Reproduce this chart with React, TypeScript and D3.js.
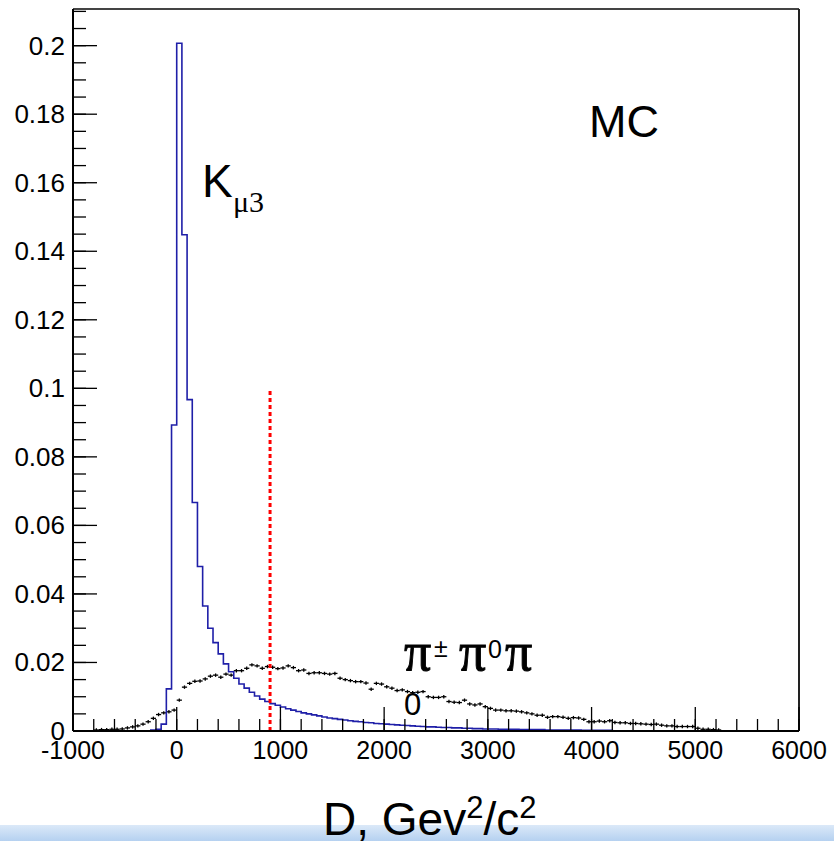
import React from "react";
import * as d3 from "d3";

// ---- data ----
// Kμ3 simulated distribution: 50-unit bins starting at -250
const kBinStart = -250;
const kBinWidth = 50;
const kmu3Values = [
  0.0003, 0.0005, 0.002, 0.0123, 0.0893, 0.2007, 0.1448, 0.0967, 0.0667, 0.048,
  0.0365, 0.03, 0.0258, 0.0225, 0.0196, 0.0173, 0.0154, 0.0137, 0.0125, 0.0113,
  0.0102, 0.0093, 0.0086, 0.008, 0.0075, 0.007, 0.0065, 0.0061, 0.0057, 0.0053,
  0.005, 0.0047, 0.0044, 0.0041, 0.0038, 0.0036, 0.0034, 0.0032, 0.003, 0.0028,
  0.0027, 0.0025, 0.0024, 0.0022, 0.0021, 0.002, 0.0019, 0.0018, 0.0017, 0.0016,
  0.0015, 0.0014, 0.0013, 0.0012, 0.0012, 0.0011, 0.001, 0.001, 0.0009, 0.0009,
  0.0008, 0.0008, 0.0007, 0.0007, 0.0006, 0.0006, 0.0006, 0.0005, 0.0005, 0.0005,
  0.0005, 0.0004, 0.0004, 0.0004, 0.0004, 0.0004, 0.0003, 0.0003, 0.0003, 0.0003,
  0.0003, 0.0003, 0.0003, 0.0002, 0.0002, 0.0002, 0.0002, 0.0002, 0.0002,
];

// π±π0π0 simulated distribution: 50-unit bins starting at -800
const pBinStart = -800;
const pBinWidth = 50;
const pipiValues = [
  0.0003, 0.0004, 0.0004, 0.0005, 0.0005, 0.0006, 0.0009, 0.0012, 0.0015, 0.002,
  0.0027, 0.0037, 0.0048, 0.0053, 0.0056, 0.0061, 0.009, 0.0128, 0.0139, 0.0145,
  0.0146, 0.0152, 0.016, 0.0163, 0.0157, 0.0166, 0.0163, 0.0176, 0.0176, 0.0183,
  0.0193, 0.019, 0.0183, 0.0188, 0.0186, 0.0182, 0.0184, 0.019, 0.0185, 0.0176,
  0.0178, 0.0168, 0.017, 0.017, 0.0168, 0.0166, 0.0168, 0.0154, 0.015, 0.0147,
  0.0144, 0.0144, 0.014, 0.0122, 0.0139, 0.0137, 0.0129, 0.0125, 0.0118, 0.012,
  0.0115, 0.0112, 0.0113, 0.0115, 0.01, 0.0098, 0.0098, 0.01, 0.0086, 0.0084,
  0.0083, 0.009, 0.0079, 0.0076, 0.0079, 0.0071, 0.0066, 0.0061, 0.0061, 0.0059,
  0.0059, 0.0058, 0.0056, 0.0053, 0.005, 0.0046, 0.0046, 0.004, 0.0042, 0.0042,
  0.004, 0.0037, 0.0039, 0.0038, 0.0034, 0.0027, 0.0027, 0.0029, 0.0027, 0.003,
  0.0025, 0.0024, 0.0024, 0.0022, 0.0022, 0.0021, 0.002, 0.0019, 0.002, 0.0017,
  0.0015, 0.0015, 0.0013, 0.0013, 0.0013, 0.0013, 0.0008, 0.0005, 0.0005, 0.0004,
  0.0003,
];
const pipiError = 0.0005;

// cut position
const cutX = 900;
const cutTop = 0.1;

const xDomain = [-1000, 6000];
const yDomain = [0, 0.2107];
const xTickLabels = ["-1000", "0", "1000", "2000", "3000", "4000", "5000", "6000"];
const yTickLabels = ["0", "0.02", "0.04", "0.06", "0.08", "0.1", "0.12", "0.14", "0.16", "0.18", "0.2"];

// ---- layout ----
const W = 834;
const H = 841;
const left = 73;
const right = 799;
const top = 9;
const bottom = 731;

const sans = "'Liberation Sans', Arial, Helvetica, sans-serif";
const serif = "'Liberation Serif', 'Times New Roman', serif";

export default function App() {
  const x = d3.scaleLinear().domain(xDomain).range([left, right]);
  const y = d3.scaleLinear().domain(yDomain).range([bottom, top]);

  const xMajor = x.ticks(7);
  const xMinor = x.ticks(35);
  const yMajor = y.ticks(10);
  const yMinor = y.ticks(40);

  // step outline for the Kμ3 histogram
  const stepPts: [number, number][] = [];
  stepPts.push([kBinStart, 0]);
  kmu3Values.forEach((v, i) => {
    const lo = kBinStart + i * kBinWidth;
    stepPts.push([lo, v]);
    stepPts.push([lo + kBinWidth, v]);
  });
  stepPts.push([kBinStart + kmu3Values.length * kBinWidth, 0]);
  const stepLine = d3
    .line<[number, number]>()
    .x((d) => x(d[0]))
    .y((d) => y(d[1]));

  const piStyle = {
    fontFamily: serif,
    fontSize: 54,
    stroke: "#000",
    strokeWidth: 0.9,
  } as const;

  return (
    <svg
      width={W}
      height={H}
      style={{ position: "absolute", left: 0, top: 0, background: "#fff" }}
    >
      <defs>
        <linearGradient id="band" x1="0" y1="0" x2="0" y2="1">
          <stop offset="0" stopColor="#dbe9f8" />
          <stop offset="1" stopColor="#b5d1f0" />
        </linearGradient>
      </defs>
      <rect x={0} y={0} width={W} height={H} fill="#fff" />
      <rect x={0} y={825} width={W} height={H - 825} fill="url(#band)" />

      {/* frame */}
      <line x1={left} x2={right} y1={top} y2={top} stroke="#444" strokeWidth={2} />
      <line x1={right} x2={right} y1={top} y2={bottom} stroke="#222" strokeWidth={2} />

      {/* π±π0π0 points with error bars */}
      <g stroke="#000" strokeWidth={1.3}>
        {pipiValues.map((v, i) => {
          const lo = pBinStart + i * pBinWidth;
          const c = lo + pBinWidth / 2;
          return (
            <g key={i}>
              <line x1={x(lo)} x2={x(lo + pBinWidth)} y1={y(v)} y2={y(v)} />
              <line
                x1={x(c)}
                x2={x(c)}
                y1={y(Math.max(0, v - pipiError))}
                y2={y(v + pipiError)}
              />
            </g>
          );
        })}
      </g>

      {/* Kμ3 histogram */}
      <path d={stepLine(stepPts) || ""} fill="none" stroke="#1f1fa8" strokeWidth={1.6} />

      {/* cut line */}
      <line
        x1={x(cutX)}
        x2={x(cutX)}
        y1={y(0)}
        y2={y(cutTop)}
        stroke="#ff0000"
        strokeWidth={3}
        strokeDasharray="4 3"
      />

      {/* axes */}
      <g stroke="#000" strokeWidth={1.3}>
        <line x1={left} x2={right} y1={bottom} y2={bottom} strokeWidth={2} />
        <line x1={left} x2={left} y1={top} y2={bottom} strokeWidth={2} />
        {xMinor.map((t) => (
          <line key={"xm" + t} x1={x(t)} x2={x(t)} y1={bottom} y2={bottom - 12} />
        ))}
        {xMajor.map((t) => (
          <line key={"xM" + t} x1={x(t)} x2={x(t)} y1={bottom} y2={bottom - 24} />
        ))}
        {yMinor.map((t) => (
          <line key={"ym" + t} x1={left} x2={left + 13} y1={y(t)} y2={y(t)} />
        ))}
        {yMajor.map((t) => (
          <line key={"yM" + t} x1={left} x2={left + 24} y1={y(t)} y2={y(t)} />
        ))}
      </g>

      <g fontFamily={sans} fontSize={25} fill="#000">
        {xMajor.map((t, i) => (
          <text key={"xl" + t} x={x(t)} y={759} textAnchor="middle">
            {xTickLabels[i]}
          </text>
        ))}
      </g>
      <g fontFamily={sans} fontSize={26} fill="#000">
        {yMajor.map((t, i) => (
          <text key={"yl" + t} x={65} y={y(t) + 9} textAnchor="end">
            {yTickLabels[i]}
          </text>
        ))}
      </g>

      {/* annotations */}
      <text x={589} y={137} fontFamily={sans} fontSize={45} fill="#000">
        MC
      </text>
      <text x={202} y={197} fontFamily={sans} fontSize={46} fill="#000">
        K
      </text>
      <text x={233} y={212} fontFamily={serif} fontSize={30} fill="#000">
        μ3
      </text>

      <g fill="#000">
        <text x={404} y={670} {...piStyle}>π</text>
        <text x={434} y={657} fontFamily={sans} fontSize={25}>±</text>
        <text x={459} y={670} {...piStyle}>π</text>
        <text x={488} y={658} fontFamily={sans} fontSize={25}>0</text>
        <text x={505} y={670} {...piStyle}>π</text>
        <text x={404} y={715} fontFamily={sans} fontSize={31}>0</text>
      </g>

      {/* x title */}
      <text x={323} y={835} fontFamily={sans} fontSize={46} fill="#000">
        D, Gev
        <tspan fontSize={31} dy={-17}>2</tspan>
        <tspan dy={17}>/c</tspan>
        <tspan fontSize={31} dy={-17}>2</tspan>
      </text>
    </svg>
  );
}
